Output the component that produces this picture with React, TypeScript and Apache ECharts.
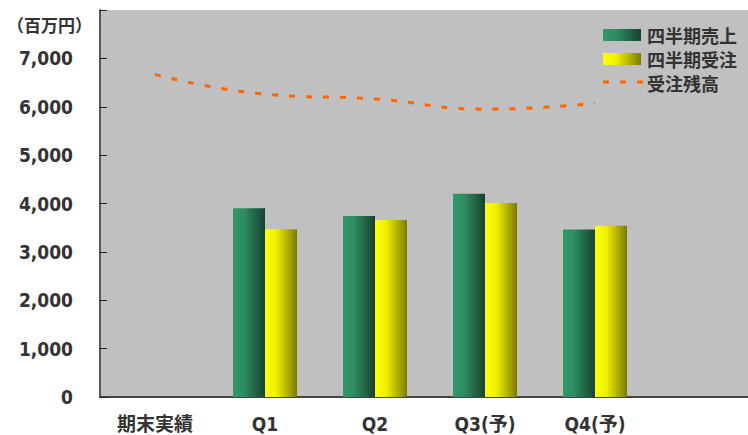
import React, { useEffect, useRef } from "react";
import * as echarts from "echarts";

const categories = ["期末実績", "Q1", "Q2", "Q3(予)", "Q4(予)", ""];
const salesValues = [null, 3900, 3740, 4200, 3460, null];
const ordersValues = [null, 3470, 3660, 4010, 3540, null];
const backlogValues = [6670, 6260, 6160, 5950, 6070, null];
const yTicks = [0, 1000, 2000, 3000, 4000, 5000, 6000, 7000];

const seriesNames = ["四半期売上", "四半期受注", "受注残高"];

const greenGrad = () =>
  new echarts.graphic.LinearGradient(0, 0, 1, 0, [
    { offset: 0, color: "#31996a" },
    { offset: 0.35, color: "#2d8c60" },
    { offset: 1, color: "#164230" },
  ]);
const yellowGrad = () =>
  new echarts.graphic.LinearGradient(0, 0, 1, 0, [
    { offset: 0, color: "#ffff00" },
    { offset: 0.35, color: "#f0f000" },
    { offset: 1, color: "#7a7a00" },
  ]);

export default function App() {
  const ref = useRef<HTMLDivElement>(null);
  useEffect(() => {
    if (!ref.current) return;
    const chart = echarts.init(ref.current, null, { renderer: "svg" });
    const cjk = "'Noto Sans CJK JP', sans-serif";
    const latin = "'DejaVu Sans Condensed', 'DejaVu Sans', 'Noto Sans CJK JP', sans-serif";
    const legendFont = "bold 18px " + cjk;
    const legendText = (name: string, y: number) => ({
      type: "text",
      x: 647,
      y,
      style: {
        text: name,
        font: legendFont,
        lineHeight: 20,
        fill: "#333",
        verticalAlign: "middle",
      },
    });
    chart.setOption({
      animation: false,
      grid: {
        left: 100,
        top: 10,
        width: 660,
        height: 387,
        show: true,
        backgroundColor: "#c0c0c0",
        borderWidth: 0,
        outerBoundsMode: "none",
        containLabel: false,
      },
      graphic: [
        {
          type: "text",
          left: 7,
          top: 16,
          style: {
            text: "（百万円）",
            font: "bold 17px " + cjk,
            fill: "#333",
          },
        },
        {
          type: "rect",
          shape: { x: 603, y: 29, width: 38, height: 12 },
          style: { fill: greenGrad() },
        },
        {
          type: "rect",
          shape: { x: 603, y: 53, width: 38, height: 12 },
          style: { fill: yellowGrad() },
        },
        {
          type: "line",
          shape: { x1: 603, y1: 82, x2: 643, y2: 82 },
          style: { stroke: "#ff6600", lineWidth: 3, lineDash: [6, 11] },
        },
        legendText(seriesNames[0], 35),
        legendText(seriesNames[1], 59),
        legendText(seriesNames[2], 83),
      ],
      xAxis: {
        type: "category",
        data: categories,
        boundaryGap: true,
        axisLine: { show: true, lineStyle: { color: "#444", width: 2 } },
        axisTick: { show: false },
        axisLabel: {
          interval: 0,
          margin: 17,
          fontFamily: latin,
          fontWeight: "bold",
          fontSize: 19,
          color: "#333",
        },
      },
      yAxis: {
        type: "value",
        min: 0,
        max: 8000,
        interval: 1000,
        splitLine: { show: false },
        axisLine: { show: true, lineStyle: { color: "#555", width: 2 } },
        axisTick: { show: true, inside: true, length: 7, lineStyle: { color: "#222", width: 1 } },
        axisLabel: {
          margin: 27,
          fontFamily: latin,
          fontWeight: "bold",
          fontSize: 19,
          color: "#333",
          formatter: (v: number) =>
            yTicks.indexOf(v) >= 0 ? v.toLocaleString("en-US") : "",
        },
      },
      series: [
        {
          name: seriesNames[0],
          type: "bar",
          data: salesValues,
          barWidth: 32,
          barGap: "0%",
          itemStyle: { color: greenGrad() },
        },
        {
          name: seriesNames[1],
          type: "bar",
          data: ordersValues,
          barWidth: 32,
          barGap: "0%",
          itemStyle: { color: yellowGrad() },
        },
        {
          name: seriesNames[2],
          type: "line",
          data: backlogValues,
          smooth: true,
          symbol: "none",
          lineStyle: { color: "#ff6600", width: 3, type: [6, 11] },
          itemStyle: { color: "#ff6600" },
        },
      ],
    });
    return () => chart.dispose();
  }, []);
  return (
    <div
      ref={ref}
      style={{ position: "absolute", left: 0, top: 0, width: 748, height: 435 }}
    />
  );
}
